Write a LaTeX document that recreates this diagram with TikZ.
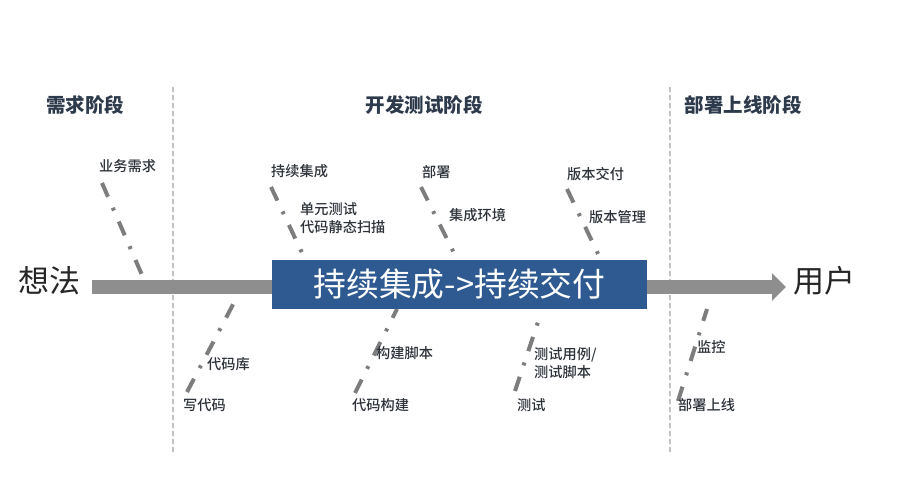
\documentclass[tikz,border=0pt]{standalone}
\usepackage{fontspec}
\setmainfont{Noto Sans CJK SC}
\newfontfamily\medfont{Noto Sans CJK SC Medium}
\usetikzlibrary{arrows.meta}
\definecolor{boxblue}{RGB}{46,90,145}
\definecolor{bargray}{RGB}{142,142,142}
\definecolor{fishgray}{RGB}{125,125,125}
\definecolor{sepgray}{RGB}{192,192,192}
\definecolor{headc}{RGB}{45,58,75}
\definecolor{txtc}{RGB}{45,50,58}
\tikzset{
  lbl/.style={anchor=west,inner sep=0pt,text=txtc,font=\medfont\fontsize{14.2}{18}\selectfont,align=left},
  headlbl/.style={inner sep=0pt,text=headc,font=\fontsize{19.5}{22}\selectfont\bfseries},
  biglbl/.style={inner sep=0pt,text=black!85,font=\fontsize{31}{34}\selectfont},
  bone/.style={draw=fishgray,line width=4pt,dash pattern=on 15pt off 12pt on 3pt off 12pt},
  sep/.style={draw=sepgray,line width=1.5pt,dash pattern=on 5pt off 3pt},
  mainbar/.style={draw=bargray,line width=13.5pt,-{Triangle[length=14pt,width=27pt]}},
  cibox/.style={fill=boxblue,text=white,minimum width=375pt,minimum height=49pt,inner sep=0pt,font=\fontsize{32.8}{36}\selectfont}
}
\begin{document}
\begin{tikzpicture}[x=1pt,y=-1pt]
\useasboundingbox[fill=white] (0,0) rectangle (899,502);
% separators
\coordinate (s1t) at (173,87); \coordinate (s1b) at (173,455);
\coordinate (s2t) at (670,87); \coordinate (s2b) at (670,455);
\draw[sep] (s1t) -- (s1b);
\draw[sep] (s2t) -- (s2b);
% headers
\node[headlbl] (h1) at (85,105) {需求阶段};
\node[headlbl] (h2) at (424,105) {开发测试阶段};
\node[headlbl] (h3) at (743,105) {部署上线阶段};
% main bar
\node[biglbl] (idea) at (49,281) {想法};
\node[biglbl] (user) at (824,281) {用户};
\coordinate (bs) at (92,287);
\coordinate (be) at (786,287);
\draw[mainbar] (bs) -- (be);
% bones top
\coordinate (a1) at (102,183); \coordinate (a2) at (142,275);
\coordinate (b1) at (271,187); \coordinate (b2) at (304,257);
\coordinate (c1) at (421,187); \coordinate (c2) at (455,255);
\coordinate (d1) at (567,189); \coordinate (d2) at (600,258);
\draw[bone] (a1) -- (a2);
\draw[bone] (b1) -- (b2);
\draw[bone] (c1) -- (c2);
\draw[bone] (d1) -- (d2);
% bones bottom
\coordinate (e1) at (187,392); \coordinate (e2) at (238,295);
\coordinate (f1) at (355,393); \coordinate (f2) at (397,309);
\coordinate (g1) at (515,391); \coordinate (g2) at (541,313);
\coordinate (k1) at (678,401); \coordinate (k2) at (707,309);
\draw[bone] (e1) -- (e2);
\draw[bone] (f1) -- (f2);
\draw[bone] (g1) -- (g2);
\draw[bone] (k1) -- (k2);
% central box
\node[cibox] (ci) at (459.5,284.5) {持续集成->持续交付};
% labels
\node[lbl] (l1) at (99,166) {业务需求};
\node[lbl] (l2) at (271,171) {持续集成};
\node[lbl] (l3) at (300,218) {单元测试\\代码静态扫描};
\node[lbl] (l4) at (422,172) {部署};
\node[lbl] (l5) at (449,215) {集成环境};
\node[lbl] (l6) at (567,174) {版本交付};
\node[lbl] (l7) at (589,217) {版本管理};
\node[lbl] (l8) at (207,364) {代码库};
\node[lbl] (l9) at (183,405) {写代码};
\node[lbl] (l10) at (376,353) {构建脚本};
\node[lbl] (l11) at (352,405) {代码构建};
\node[lbl] (l12) at (534,363) {测试用例/\\测试脚本};
\node[lbl] (l13) at (517,405) {测试};
\node[lbl] (l14) at (697,347) {监控};
\node[lbl] (l15) at (678,405) {部署上线};
\end{tikzpicture}
\end{document}
